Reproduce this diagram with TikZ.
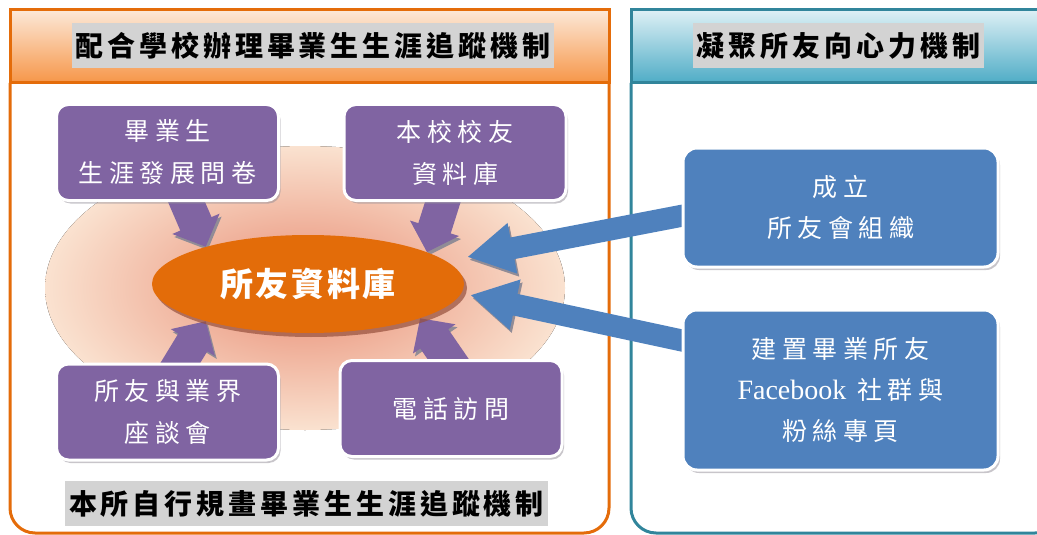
\documentclass[tikz,border=0pt]{standalone}
\usepackage{fontspec}
\setmainfont{Liberation Serif}
\newfontfamily\cjk{Noto Sans CJK TC}[LetterSpace=22]
\newfontfamily\cjkdb{Noto Sans CJK TC}[LetterSpace=8]
\newfontfamily\cjktitle{Noto Sans CJK TC}[LetterSpace=14]
\usepackage{tikz}
\usetikzlibrary{arrows.meta}
\usetikzlibrary{shapes.geometric}
\usetikzlibrary{shadows}
\usetikzlibrary{calc}
\definecolor{frameorange}{RGB}{228,108,10}
\definecolor{frameteal}{RGB}{49,133,155}
\definecolor{hdrorangetop}{RGB}{252,232,216}
\definecolor{hdrorangebot}{RGB}{246,150,72}
\definecolor{hdrtealtop}{RGB}{222,240,245}
\definecolor{hdrtealbot}{RGB}{78,172,198}
\definecolor{peachout}{RGB}{250,226,208}
\definecolor{peachin}{RGB}{232,140,115}
\definecolor{dborange}{RGB}{227,108,9}
\definecolor{dbshadow}{RGB}{150,80,60}
\definecolor{boxpurple}{RGB}{128,100,162}
\definecolor{boxblue}{RGB}{79,129,189}
\definecolor{titlegray}{RGB}{211,211,211}
\definecolor{shadowgray}{RGB}{145,140,150}
\pgfdeclarelayer{back}
\pgfdeclarelayer{arrows}
\pgfsetlayers{back,arrows,main}
\tikzset{
    title_box/.style = {rectangle, fill=titlegray, inner xsep=4pt, inner ysep=0pt, minimum height=45pt, text=black,
        font=\cjktitle\fontsize{28}{34}\selectfont\bfseries},
    purple_box/.style = {rectangle, rounded corners=12pt, fill=boxpurple, draw=white, line width=3pt, align=center, text=white,
        minimum width=222pt, minimum height=96pt, font=\cjk\fontsize{25}{42}\selectfont,
        drop shadow={shadow xshift=2pt, shadow yshift=-3pt, fill=shadowgray}},
    blue_box/.style = {rectangle, rounded corners=14pt, fill=boxblue, draw=white, line width=3pt, align=center, text=white,
        minimum width=315pt, font=\cjk\fontsize{25}{41}\selectfont,
        drop shadow={shadow xshift=2pt, shadow yshift=-3pt, fill=shadowgray}},
    db_node/.style = {ellipse, fill=dborange, inner sep=0pt, minimum width=312pt, minimum height=98pt, text=white,
        font=\cjkdb\fontsize{33}{40}\selectfont\bfseries,
        drop shadow={shadow xshift=3pt, shadow yshift=-4pt, fill=dbshadow, opacity=0.7}},
    purple_arrow/.style = {line width=34pt, draw=boxpurple, -{Triangle[length=25pt, width=50pt]},
        preaction={draw=shadowgray, transform canvas={shift={(2pt,-3pt)}}}},
    blue_arrow/.style = {line width=22pt, draw=boxblue, -{Triangle[length=46pt, width=48pt]},
        preaction={draw=shadowgray, transform canvas={shift={(2pt,-3pt)}}}}
}
\begin{document}
\begin{tikzpicture}[x=1pt, y=-1pt]
    \useasboundingbox (0,0) rectangle (1037,535);

    % titles
    \node [title_box] (lefttitle) at (313,45.5) {配合學校辦理畢業生生涯追蹤機制};
    \node [title_box] (righttitle) at (838.5,45.5) {凝聚所友向心力機制};
    \node [title_box] (bottomtitle) at (306.5,503.5) {本所自行規畫畢業生生涯追蹤機制};

    % database and its sources
    \node [db_node] (db) at (308,284) {所友資料庫};
    \node [purple_box] (survey) at (167.5,152.5) {畢業生\\生涯發展問卷};
    \node [purple_box] (alumnidb) at (455,152.5) {本校校友\\資料庫};
    \node [purple_box] (forum) at (167.5,412) {所友與業界\\座談會};
    \node [purple_box] (phone) at (451,408.5) {電話訪問};

    % alumni association side
    \node [blue_box, minimum height=119pt] (assoc) at (840.5,207.5) {成立\\所友會組織};
    \node [blue_box, minimum height=160pt] (fbpage) at (840.5,390) {建置畢業所友\\{\rmfamily\fontsize{28}{41}\selectfont Facebook} 社群與\\粉絲專頁};

    \begin{pgfonlayer}{arrows}
        \draw [purple_arrow] ($(survey.south)+(13,-14)$) -- (db.160);
        \draw [purple_arrow] ($(alumnidb.south)+(-9,-10)$) -- (db.15);
        \draw [purple_arrow] ($(forum.north)+(7,10)$) -- (db.200);
        \draw [purple_arrow] ($(phone.north)+(4,10)$) -- (db.-17);
        \draw [blue_arrow] ($(assoc.west)+(12,6)$) -- ($(db.east)+(3,-27)$);
        \draw [blue_arrow] ($(fbpage.west)+(12,-47)$) -- ($(db.east)+(6,11)$);
    \end{pgfonlayer}

    \begin{pgfonlayer}{back}
        % left panel
        \draw [frameorange, line width=3pt, rounded corners=25pt] (10,83) -- (10,533) -- (609,533) -- (609,83);
        \draw [draw=frameorange, line width=3pt, top color=hdrorangetop, bottom color=hdrorangebot] (10,10) rectangle (609,83);
        % right panel
        \draw [frameteal, line width=3pt, rounded corners=25pt] (631,83) -- (631,533) -- (1060,533) -- (1060,83);
        \draw [draw=frameteal, line width=3pt, top color=hdrtealtop, bottom color=hdrtealbot] (631,10) rectangle (1060,83);
        % glow behind the database
        \fill [inner color=peachin, outer color=peachout] (305,288) ellipse [x radius=260pt, y radius=142pt];
    \end{pgfonlayer}
\end{tikzpicture}
\end{document}
